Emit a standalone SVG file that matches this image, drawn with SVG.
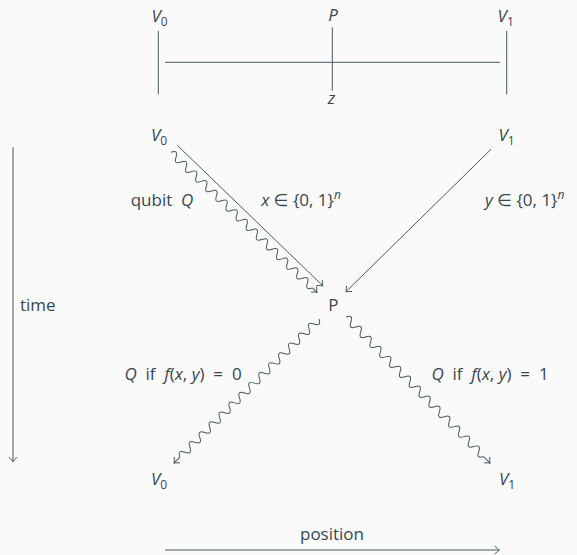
<svg xmlns="http://www.w3.org/2000/svg" xmlns:xlink="http://www.w3.org/1999/xlink" width="577" height="555" viewBox="0 0 577 555">
<style>
.t{font-family:"Open Sans","DejaVu Sans",sans-serif;font-size:17px;fill:#37474f;white-space:pre}
.m{font-style:italic}
.s{font-size:12px}
.ln{stroke:#455a64;stroke-width:1;fill:none}
</style>
<defs>
<marker id="ah" markerUnits="userSpaceOnUse" markerWidth="12" markerHeight="12" viewBox="-6 -6 12 12" refX="0" refY="0" orient="auto">
<path d="M-4.5,-4 Q-1.5,-1 0,0 Q-1.5,1 -4.5,4" fill="none" stroke="#455a64" stroke-width="1"/>
</marker>
<path id="wave" d="M0,0 Q3.5,-7.4 7,0 T14,0 T21,0 T28,0 T35,0 T42,0 T49,0 T56,0 T63,0 T70,0 T77,0 T84,0 T91,0 T98,0 T105,0 T112,0 T119,0 T126,0 T133,0 T140,0 T147,0 T154,0 T161,0 T168,0 T175,0 T182,0 T189,0 T196,0"/>
</defs>
<rect width="577" height="555" fill="#fafafa"/>

<g id="top-line">
<line class="ln" x1="158.3" y1="31" x2="158.3" y2="94.3"/>
<line class="ln" x1="332.3" y1="27.3" x2="332.3" y2="90.7"/>
<line class="ln" x1="506.7" y1="31" x2="506.7" y2="94.3"/>
<line class="ln" x1="165" y1="62.3" x2="500" y2="62.3"/>
<text class="t" x="159.5" y="22" text-anchor="middle"><tspan class="m">V</tspan><tspan class="s" dy="4">0</tspan></text>
<text class="t m" x="333" y="21" text-anchor="middle">P</text>
<text class="t" x="505.7" y="22" text-anchor="middle"><tspan class="m">V</tspan><tspan class="s" dy="4">1</tspan></text>
<text class="t m" x="331.5" y="104" text-anchor="middle">z</text>
</g>

<g id="V0-start"><text class="t" x="159" y="141" text-anchor="middle"><tspan class="m">V</tspan><tspan class="s" dy="4">0</tspan></text></g>
<g id="V1-start"><text class="t" x="506.5" y="141" text-anchor="middle"><tspan class="m">V</tspan><tspan class="s" dy="4">1</tspan></text></g>
<g id="P-node"><text class="t" x="333.3" y="311" text-anchor="middle">P</text></g>
<g id="V0-end"><text class="t" x="159" y="485" text-anchor="middle"><tspan class="m">V</tspan><tspan class="s" dy="4">0</tspan></text></g>
<g id="V1-end"><text class="t" x="507" y="485" text-anchor="middle"><tspan class="m">V</tspan><tspan class="s" dy="4">1</tspan></text></g>

<g id="connectors">
<line class="ln" x1="177.7" y1="145.7" x2="322.7" y2="285.7" marker-end="url(#ah)"/>
<line class="ln" x1="491" y1="149.3" x2="346" y2="291.7" marker-end="url(#ah)"/>
<g transform="translate(171,152.3) rotate(43.8)">
<use xlink:href="#wave" class="ln"/>
<path class="ln" d="M196,0 L202.3,0" marker-end="url(#ah)"/>
</g>
<g transform="translate(319,319) rotate(135.2)">
<use xlink:href="#wave" class="ln"/>
<path class="ln" d="M196,0 L204.4,0" marker-end="url(#ah)"/>
</g>
<g transform="translate(346,317) rotate(45.4)">
<use xlink:href="#wave" class="ln"/>
<path class="ln" d="M196,0 L205.1,0" marker-end="url(#ah)"/>
</g>
<line class="ln" x1="13" y1="147.3" x2="13" y2="461.7" marker-end="url(#ah)"/>
<line class="ln" x1="165" y1="550" x2="499.3" y2="550" marker-end="url(#ah)"/>
</g>

<g id="labels">
<text class="t" x="162" y="206" text-anchor="middle">qubit  <tspan class="m">Q</tspan></text>
<text class="t" x="301" y="206" text-anchor="middle"><tspan class="m">x</tspan> ∈ {0, 1}<tspan class="s m" dy="-7">n</tspan></text>
<text class="t" x="485" y="206"><tspan class="m">y</tspan> ∈ {0, 1}<tspan class="s m" dy="-7">n</tspan></text>
<text class="t" x="183" y="380" text-anchor="middle"><tspan class="m">Q</tspan>  if  <tspan class="m">f</tspan>(<tspan class="m">x</tspan>, <tspan class="m">y</tspan>)  =  0</text>
<text class="t" x="490" y="380" text-anchor="middle"><tspan class="m">Q</tspan>  if  <tspan class="m">f</tspan>(<tspan class="m">x</tspan>, <tspan class="m">y</tspan>)  =  1</text>
<text class="t" x="20" y="311">time</text>
<text class="t" x="332" y="540" text-anchor="middle">position</text>
</g>
</svg>
